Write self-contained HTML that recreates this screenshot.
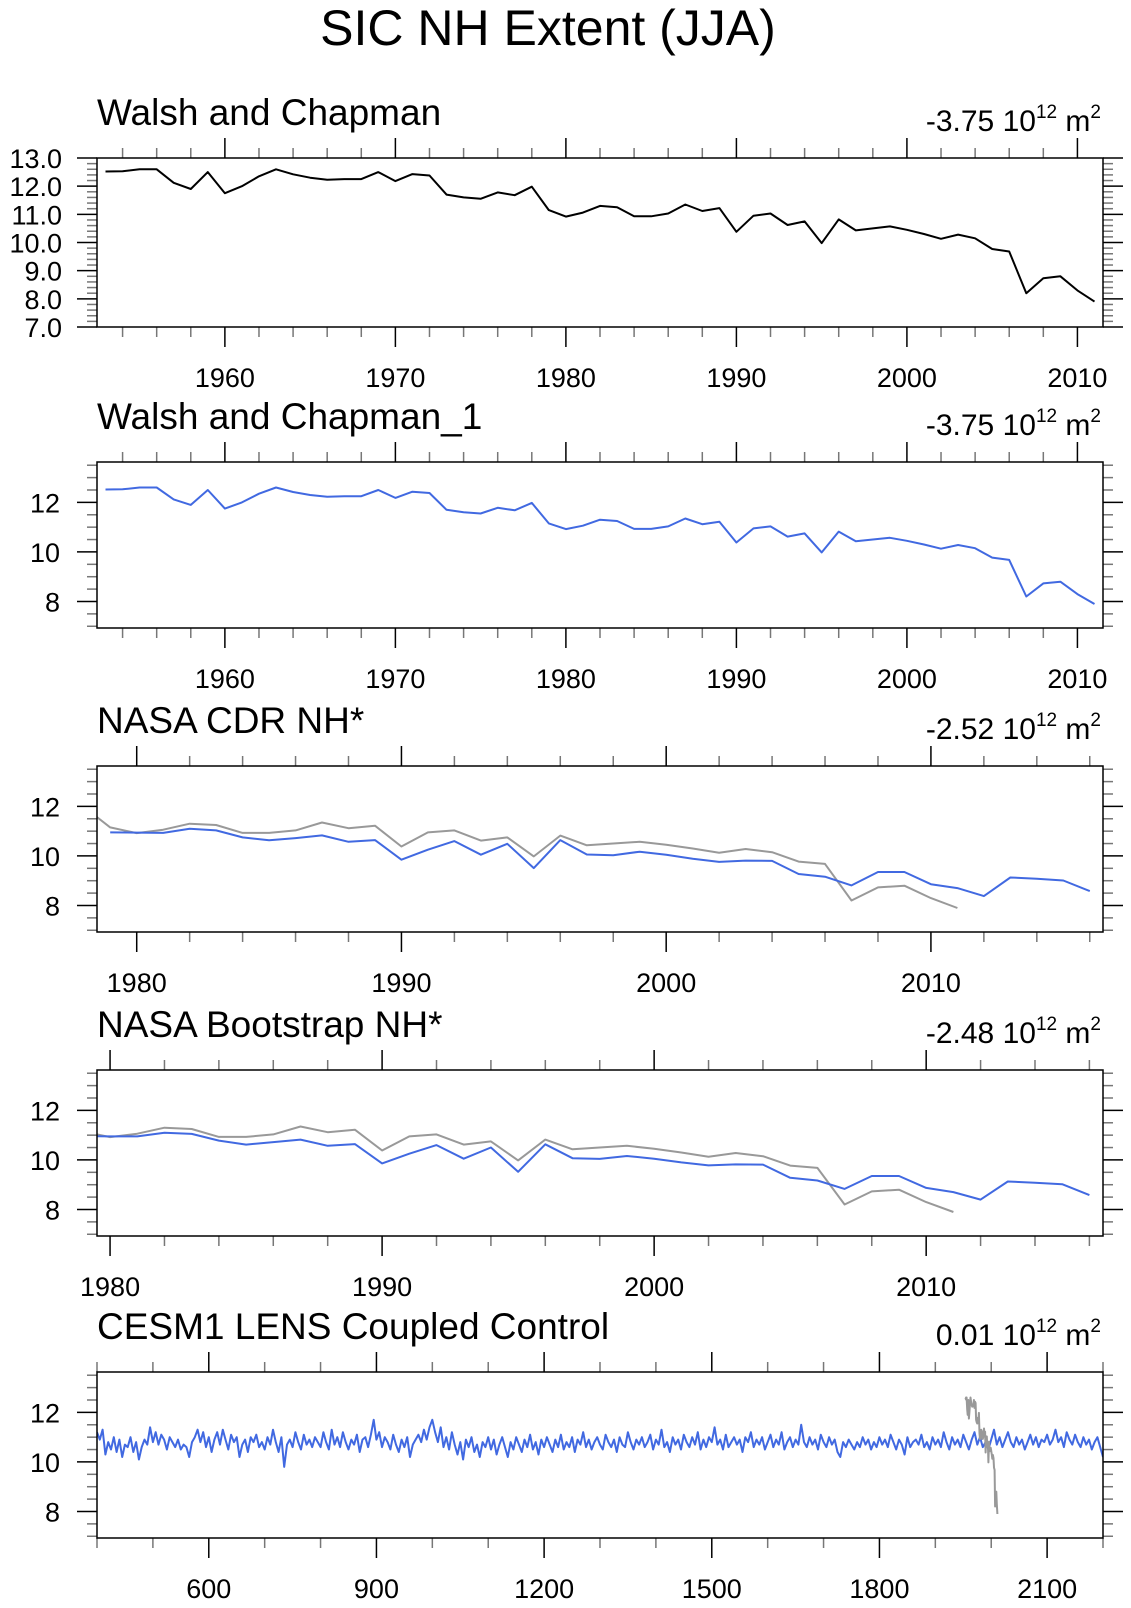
<!DOCTYPE html>
<html><head><meta charset="utf-8"><style>
html,body{margin:0;padding:0;background:#fff;}
svg{display:block;font-family:"Liberation Sans",sans-serif;}
</style></head><body>
<svg id="chart" width="1131" height="1608" viewBox="0 0 1131 1608" xmlns="http://www.w3.org/2000/svg">
<text x="548" y="45" font-size="50" text-anchor="middle">SIC NH Extent (JJA)</text>
</svg>
<script>
const walshYears = [];
for (let y = 1953; y <= 2011; y++) walshYears.push(y);
const walshValues = [12.52,12.53,12.6,12.6,12.12,11.9,12.5,11.75,12.0,12.35,12.6,12.42,12.3,12.23,12.25,12.25,12.5,12.18,12.43,12.38,11.7,11.6,11.55,11.78,11.68,11.98,11.15,10.92,11.06,11.3,11.25,10.93,10.93,11.03,11.35,11.12,11.22,10.38,10.95,11.03,10.62,10.75,9.98,10.82,10.43,10.5,10.57,10.45,10.3,10.13,10.28,10.15,9.77,9.68,8.2,8.73,8.8,8.3,7.9];
const cdrYears = [];
for (let y = 1979; y <= 2016; y++) cdrYears.push(y);
const cdrValues = [10.95,10.94,10.93,11.1,11.03,10.75,10.63,10.72,10.83,10.57,10.64,9.85,10.25,10.6,10.05,10.49,9.51,10.64,10.06,10.03,10.17,10.05,9.89,9.76,9.81,9.8,9.27,9.16,8.81,9.35,9.35,8.86,8.7,8.38,9.13,9.08,9.01,8.58];
const bootValues = [10.96,10.95,10.95,11.1,11.05,10.78,10.62,10.72,10.82,10.57,10.64,9.86,10.25,10.6,10.05,10.5,9.52,10.63,10.07,10.04,10.16,10.05,9.9,9.78,9.82,9.81,9.28,9.17,8.83,9.35,9.35,8.87,8.7,8.4,9.13,9.08,9.02,8.58];
const ctrlStart = 400, ctrlStep = 5;
const ctrlValues = [
11.2,10.9,11.3,10.3,10.8,10.5,11.0,10.4,10.9,10.2,10.7,10.6,11.0,10.4,10.8,10.1,10.6,10.9,10.7,11.4,
10.8,11.2,10.7,11.1,10.9,10.5,11.0,10.8,10.6,10.9,10.5,10.7,10.6,10.2,10.8,11.0,11.3,10.8,11.2,10.6,
11.0,10.4,10.9,11.2,10.7,11.3,10.9,10.5,11.1,10.8,11.0,10.2,10.7,10.9,10.4,11.0,10.8,11.1,10.6,10.8,
10.5,11.0,10.7,11.3,10.8,10.4,11.0,9.8,10.7,10.9,10.6,11.2,10.8,10.5,11.1,10.7,10.9,10.6,11.0,10.8,
10.6,11.2,10.8,10.5,11.3,10.7,11.0,10.6,11.2,10.8,10.5,10.9,10.7,11.1,10.4,10.9,11.0,10.6,11.1,11.7,
10.9,11.2,10.6,11.0,10.8,10.5,11.1,10.7,10.4,10.9,10.6,11.0,10.2,10.7,10.9,11.1,10.8,11.3,10.9,11.4,
11.7,11.2,10.8,11.4,10.6,11.0,10.5,11.2,10.7,10.3,10.8,10.1,10.9,10.6,11.0,10.4,10.7,10.2,10.8,10.6,
11.0,10.5,10.9,10.3,10.7,11.0,10.6,10.2,10.8,10.5,11.0,10.7,10.4,10.9,10.6,11.1,10.5,10.8,10.3,10.9,
10.6,11.0,10.7,10.4,10.9,10.6,11.1,10.5,10.8,10.6,11.0,10.4,10.9,10.7,11.2,10.6,10.9,10.5,10.8,11.0,
10.7,10.5,11.1,10.8,10.6,10.9,10.4,11.0,10.7,10.6,11.2,10.8,10.5,10.9,10.7,11.0,10.6,10.8,11.1,10.5,
10.9,10.7,11.3,10.6,10.8,10.4,11.0,10.7,10.9,10.5,11.1,10.8,10.6,11.0,10.7,11.2,10.5,10.9,10.6,11.0,
10.8,11.4,10.7,10.9,10.5,11.1,10.6,10.8,11.0,10.7,10.9,10.4,11.0,10.8,11.2,10.6,10.9,10.7,11.0,10.5,
10.8,11.1,10.6,10.9,10.7,11.2,10.5,10.8,11.0,10.6,10.9,10.7,11.5,10.8,10.6,11.0,10.7,10.9,10.5,11.1,
10.8,10.6,11.0,10.7,10.9,10.4,10.2,10.8,10.6,10.9,10.7,10.5,10.8,10.6,11.0,10.7,10.9,10.5,10.8,10.6,
11.0,10.7,10.9,10.6,11.1,10.8,10.5,10.9,10.7,10.3,11.0,10.6,10.8,10.9,10.7,11.1,10.6,10.8,10.5,11.0,
10.7,10.9,10.6,11.2,10.8,10.5,11.0,10.7,10.9,10.6,11.1,10.8,10.5,10.9,11.2,10.7,11.0,10.6,10.8,10.5,
10.9,11.3,10.7,11.0,10.6,10.9,11.2,10.8,10.6,11.0,10.7,10.9,10.5,10.8,11.1,10.7,11.0,10.6,10.9,10.8,
11.1,10.7,10.9,11.3,10.8,11.0,10.6,11.2,10.9,10.7,11.1,10.8,10.6,11.0,10.7,10.9,10.5,10.8,11.0,10.6,
10.2];

const svg = document.getElementById('chart');
const NS = 'http://www.w3.org/2000/svg';
function mk(tag, attrs, parent) {
  const e = document.createElementNS(NS, tag);
  for (const k in attrs) e.setAttribute(k, attrs[k]);
  (parent || svg).appendChild(e);
  return e;
}
const L = 97, R = 1103;
function panel(cfg) {
  const g = mk('g', {});
  
  
  const T = cfg.top, B = cfg.top + cfg.h;
  const sx = v => L + (v - cfg.x0) / (cfg.x1 - cfg.x0) * (R - L);
  const sy = v => B - (v - cfg.y0) / (cfg.y1 - cfg.y0) * (B - T);
  const t1 = mk('text', {x: L, y: T - 33, 'font-size': 37}, g);
  t1.textContent = cfg.title;
  
  
  const t2 = mk('text', {x: R - 2, y: T - 27, 'font-size': 30, 'text-anchor': 'end'}, g);
  t2.innerHTML = cfg.trend + ' 10<tspan dy="-13" font-size="19">12</tspan><tspan dy="13"> m</tspan><tspan dy="-13" font-size="19">2</tspan>';
  
  
  for (let v = Math.ceil(cfg.x0 / cfg.xmin) * cfg.xmin; v <= cfg.x1 + 1e-9; v += cfg.xmin) {
    const major = Math.abs(v / cfg.xmaj - Math.round(v / cfg.xmaj)) < 1e-6;
    const x = sx(v), len = major ? 20 : 10;
    mk('line', {x1: x, x2: x, y1: T, y2: T - len, stroke: major ? '#000' : '#777', 'stroke-width': 1.5}, g);
    mk('line', {x1: x, x2: x, y1: B, y2: B + len, stroke: major ? '#000' : '#777', 'stroke-width': 1.5}, g);
    if (major) {
      const tl = mk('text', {x: x, y: B + 60, 'font-size': 27, 'text-anchor': 'middle'}, g);
      tl.textContent = v;
      
      
    }
  }
  const n = Math.round((cfg.y1 - cfg.y0) / cfg.ymin) + 2;
  for (let i = 0; i < n; i++) {
    const v = Math.ceil(cfg.y0 / cfg.ymin - 1e-9) * cfg.ymin + i * cfg.ymin;
    if (v > cfg.y1 + 1e-9) break;
    const major = Math.abs(v / cfg.ymaj - Math.round(v / cfg.ymaj)) < 1e-6;
    const y = sy(v), len = major ? 20 : 10;
    mk('line', {x1: L, x2: L - len, y1: y, y2: y, stroke: major ? '#000' : '#777', 'stroke-width': 1.5}, g);
    mk('line', {x1: R, x2: R + len, y1: y, y2: y, stroke: major ? '#000' : '#777', 'stroke-width': 1.5}, g);
    if (major) {
      const tl = mk('text', {x: cfg.ylx, y: y + 10, 'font-size': 27, 'text-anchor': 'end'}, g);
      tl.textContent = v.toFixed(cfg.ydec);
      
      
    }
  }
  const clipId = 'c' + cfg.top;
  const cp = mk('clipPath', {id: clipId}, g);
  mk('rect', {x: L, y: T, width: R - L, height: B - T}, cp);
  cfg.series.forEach(s => {
    const pts = s.vals.map((v, i) => sx(s.xs(i)).toFixed(1) + ',' + sy(v).toFixed(1)).join(' ');
    const pl = mk('polyline', {points: pts, fill: 'none', stroke: s.color, 'stroke-width': s.w, 'stroke-linejoin': 'round', 'clip-path': 'url(#' + clipId + ')'}, g);
    
    
  });
  const fr = mk('rect', {x: L, y: T, width: R - L, height: B - T, fill: 'none', stroke: '#000', 'stroke-width': 1.5}, g);
  
  
}
const GREY = '#999999', BLUE = '#4169e1';
const wx = i => walshYears[i], cx = i => cdrYears[i], ctx = i => ctrlStart + i * ctrlStep;
panel({name: 'panel-walsh-chapman', top: 158, h: 169, title: 'Walsh and Chapman', trend: '-3.75',
  x0: 1952.5, x1: 2011.5, xmaj: 10, xmin: 2, y0: 7, y1: 13, ymaj: 1, ymin: 0.2, ydec: 1, ylx: 62,
  series: [{name: 'walsh-line', vals: walshValues, xs: wx, color: '#000', w: 2}]});
panel({name: 'panel-walsh-chapman-1', top: 462, h: 166, title: 'Walsh and Chapman_1', trend: '-3.75',
  x0: 1952.5, x1: 2011.5, xmaj: 10, xmin: 2, y0: 6.93, y1: 13.63, ymaj: 2, ymin: 0.5, ydec: 0, ylx: 60,
  series: [{name: 'walsh-1-line', vals: walshValues, xs: wx, color: BLUE, w: 2}]});
panel({name: 'panel-nasa-cdr', top: 766, h: 166, title: 'NASA CDR NH*', trend: '-2.52',
  x0: 1978.5, x1: 2016.5, xmaj: 10, xmin: 2, y0: 6.93, y1: 13.63, ymaj: 2, ymin: 0.5, ydec: 0, ylx: 60,
  series: [{name: 'walsh-reference-line', vals: walshValues, xs: wx, color: GREY, w: 2},
           {name: 'nasa-cdr-line', vals: cdrValues, xs: cx, color: BLUE, w: 2}]});
panel({name: 'panel-nasa-bootstrap', top: 1070, h: 166, title: 'NASA Bootstrap NH*', trend: '-2.48',
  x0: 1979.52, x1: 2016.5, xmaj: 10, xmin: 2, y0: 6.93, y1: 13.63, ymaj: 2, ymin: 0.5, ydec: 0, ylx: 60,
  series: [{name: 'walsh-reference-line', vals: walshValues, xs: wx, color: GREY, w: 2},
           {name: 'nasa-bootstrap-line', vals: bootValues, xs: cx, color: BLUE, w: 2}]});
panel({name: 'panel-cesm1-control', top: 1372, h: 166, title: 'CESM1 LENS Coupled Control', trend: '0.01',
  x0: 400, x1: 2200, xmaj: 300, xmin: 100, y0: 6.93, y1: 13.63, ymaj: 2, ymin: 0.5, ydec: 0, ylx: 60,
  series: [{name: 'cesm-control-line', vals: ctrlValues, xs: ctx, color: BLUE, w: 2},
           {name: 'walsh-reference-line', vals: walshValues, xs: wx, color: GREY, w: 2}]});
</script>
</body></html>
